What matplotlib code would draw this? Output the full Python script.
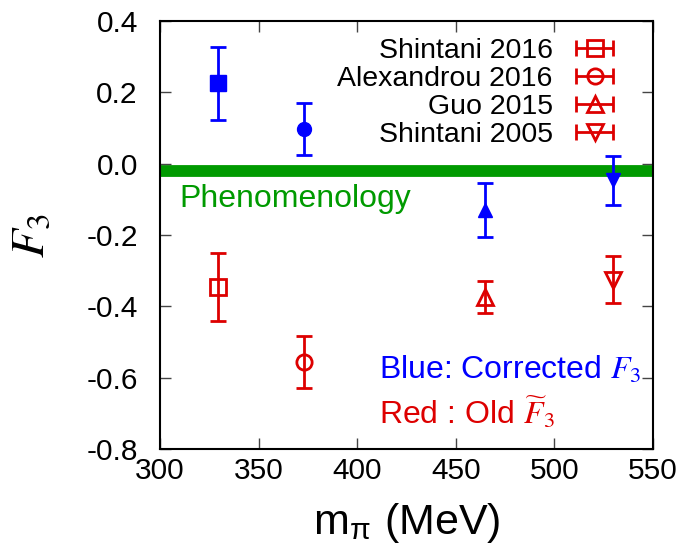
import numpy as np
import matplotlib
matplotlib.use("Agg")
import matplotlib.pyplot as plt
from matplotlib.legend_handler import HandlerErrorbar

plt.rcParams['font.family'] = ['Liberation Sans', 'DejaVu Sans']
plt.rcParams['mathtext.fontset'] = 'stix'

# data
labels = ['Shintani 2016', 'Alexandrou 2016', 'Guo 2015', 'Shintani 2005']
markers = ['s', 'o', '^', 'v']
mpi = [329.5, 373.0, 465.0, 530.0]
f3_new = [0.225, 0.098, -0.130, -0.047]
f3_new_err = [0.102, 0.073, 0.075, 0.068]
f3_old = [-0.345, -0.555, -0.375, -0.325]
f3_old_err = [0.095, 0.073, 0.045, 0.065]
phenom = -0.02

blue = '#0000ff'
red = '#dd0000'
green = '#009a00'

fig = plt.figure(figsize=(6.85, 5.56), dpi=100)
ax = fig.add_axes([0.2336, 0.1924, 0.7194, 0.7698])

ax.axhline(phenom, color=green, lw=8.5, zorder=1)

for i in range(4):
    ax.errorbar(mpi[i], f3_new[i], yerr=f3_new_err[i], fmt=markers[i], color=blue,
                ms=11 if markers[i] == 's' else 10, elinewidth=2, capsize=6, capthick=2, zorder=3)
    ax.errorbar(mpi[i], f3_old[i], yerr=f3_old_err[i], fmt=markers[i], color=red,
                mfc='none', mew=2, ms=12 if markers[i] == 's' else 11,
                elinewidth=2, capsize=6, capthick=2, zorder=3)

# legend entries drawn with horizontal bars like the original key
handles = []
for i in range(4):
    h = ax.errorbar([np.nan], [np.nan], xerr=[1], fmt=markers[i], color=red, mfc='none',
                    mew=2, ms=11, elinewidth=2, capsize=6, capthick=2)
    handles.append(h)
hmap = {type(handles[0]): HandlerErrorbar(xerr_size=0.65)}
leg = ax.legend(handles, labels, loc='upper right', bbox_to_anchor=(0.963, 0.988),
                frameon=False, markerfirst=False, fontsize=20.5, handlelength=2.0,
                labelspacing=0.08, handletextpad=0.47, borderaxespad=0.0,
                handler_map=hmap)
leg._legend_box.align = 'right'

ax.text(310, -0.1, 'Phenomenology', color=green, fontsize=23, va='center')
ax.text(411, -0.579, 'Blue: Corrected $\\mathit{F}_{\\mathit{3}}$', color=blue,
        fontsize=23, ha='left', va='center')
ax.text(411, -0.697, 'Red : Old $\\widetilde{\\mathit{F}}_{\\mathit{3}}$', color=red,
        fontsize=23, ha='left', va='center')

yt = np.round(np.arange(-0.8, 0.41, 0.2), 1)
ax.set_xlim(300, 550)
ax.set_ylim(-0.8, 0.4)
ax.set_xticks(np.arange(300, 551, 50))
ax.set_yticks(yt)
ax.set_yticklabels(['%.1f' % (v + 0.0) for v in yt])
ax.tick_params(direction='in', length=8, width=1, top=True, right=True,
               labelsize=21.5, color='#444444')
ax.tick_params(axis='y', pad=16)
ax.tick_params(axis='x', pad=6)
for s in ax.spines.values():
    s.set_linewidth(1.5)

ax.set_xlabel('m$_{\\mathregular{\\pi}}$ (MeV)', fontsize=31, labelpad=11)
ax.set_ylabel('$\\mathit{F}_{\\mathit{3}}$', fontsize=34)
ax.yaxis.set_label_coords(-0.215, 0.5)

plt.savefig('out.png', dpi=100)
